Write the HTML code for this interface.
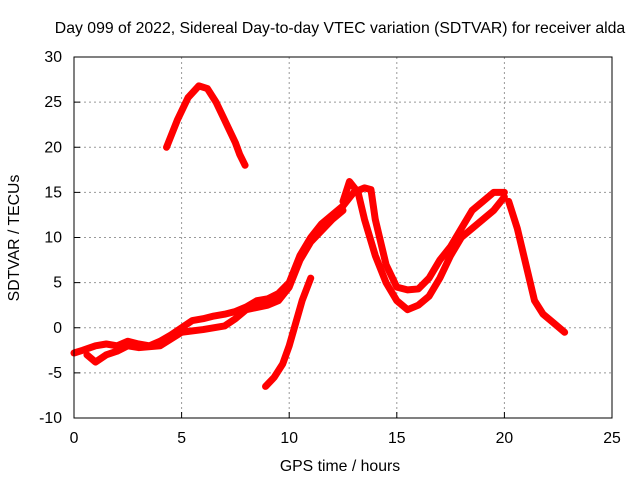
<!DOCTYPE html>
<html><head><meta charset="utf-8"><style>
body{margin:0;background:#fff}
svg{display:block;font-family:"Liberation Sans",sans-serif}
</style></head><body>
<svg id="c" width="640" height="480">
<rect width="640" height="480" fill="#fff"/>
<text x="340" y="33" font-size="15.8" text-anchor="middle">Day 099 of 2022, Sidereal Day-to-day VTEC variation (SDTVAR) for receiver alda</text>
<text x="340" y="471" font-size="15.8" text-anchor="middle">GPS time / hours</text>
<text transform="translate(19,238) rotate(-90)" font-size="15.8" text-anchor="middle">SDTVAR / TECUs</text>
<g id="grid"></g><g id="series"></g>
<rect x="74" y="57" width="538" height="361" fill="none" stroke="#000"/>
</svg>
<script>
const xTicks=[0,5,10,15,20,25];
const yTicks=[-10,-5,0,5,10,15,20,25,30];
const trackArc=[[4.3,20],[4.8,23],[5.3,25.5],[5.8,26.8],[6.2,26.5],[6.6,25],[7.0,23],[7.5,20.5],[7.7,19.2],[7.95,18]];
const trackMain=[[0,-2.8],[0.4,-2.5],[1,-2],[1.5,-1.8],[2,-2],[2.5,-1.5],[3,-1.8],[3.5,-2],[4,-1.5],[4.5,-0.8],[5,0],[5.5,0.8],[6,1],[6.5,1.3],[7,1.5],[7.5,1.8],[8,2.3],[8.5,3],[9,3.2],[9.5,3.8],[10,5],[10.5,8],[11,10],[11.5,11.5],[12,12.5],[12.5,13.5],[13,15],[13.5,15.5],[13.8,15.3],[14,12],[14.5,7],[15,4.5],[15.5,4.2],[16,4.3],[16.5,5.5],[17,7.5],[17.5,9],[18,11],[18.5,13],[19,14],[19.5,15],[20,15]];
const trackLow=[[0.6,-3],[1,-3.8],[1.5,-3],[2,-2.6],[2.5,-2],[3,-2.2],[4,-2],[5,-0.5],[6,-0.2],[7,0.2],[7.5,1],[8,2],[9,2.5],[9.5,3],[10,4.5],[10.5,7.5],[11,9.5],[12,12],[12.5,13]];
const trackFall=[[20.2,14],[20.6,11],[21,7],[21.4,3],[21.8,1.5],[22.3,0.5],[22.8,-0.5]];
const trackRise=[[8.9,-6.5],[9.3,-5.5],[9.7,-4],[10,-2],[10.3,0.5],[10.6,3],[11,5.5]];
const trackSecond=[[12.5,14],[12.8,16.2],[13.2,15],[13.5,12],[14,8],[14.5,5],[15,3],[15.5,2],[16,2.5],[16.5,3.5],[17,5.5],[17.5,8],[18,10],[18.5,11],[19,12],[19.5,13],[20,14.5]];
const tracks=[trackArc,trackMain,trackLow,trackFall,trackRise,trackSecond];
const X=v=>74+v*538/25, Y=v=>418-(v+10)*361/40;
const NS='http://www.w3.org/2000/svg';
const g=document.getElementById('grid'), s=document.getElementById('series');
function mk(tag,attrs,parent){const e=document.createElementNS(NS,tag);for(const k in attrs)e.setAttribute(k,attrs[k]);parent.appendChild(e);return e;}
xTicks.forEach(t=>{
 if(t>0&&t<25){const l=mk('line',{x1:X(t),x2:X(t),y1:57,y2:418,stroke:'#999','stroke-dasharray':'2,3'},g);
 
 }
 const tk=mk('line',{x1:X(t),x2:X(t),y1:418,y2:412,stroke:'#000'},g);
 
 
 const tx=mk('text',{x:X(t),y:443,'font-size':15.8,'text-anchor':'middle'},g);tx.textContent=t;
 
 
});
yTicks.forEach(t=>{
 if(t>-10&&t<30){const l=mk('line',{x1:74,x2:612,y1:Y(t),y2:Y(t),stroke:'#999','stroke-dasharray':'2,3'},g);
 
 }
 const tk=mk('line',{x1:74,x2:80,y1:Y(t),y2:Y(t),stroke:'#000'},g);
 
 
 const tx=mk('text',{x:62,y:Y(t)+5,'font-size':15.8,'text-anchor':'end'},g);tx.textContent=t;
 
 
});
tracks.forEach(tr=>{
 const p=mk('polyline',{points:tr.map(d=>X(d[0])+','+Y(d[1])).join(' '),fill:'none',stroke:'#f00','stroke-width':7,'stroke-linejoin':'round','stroke-linecap':'round'},s);
 
 
});
</script>
</body></html>
